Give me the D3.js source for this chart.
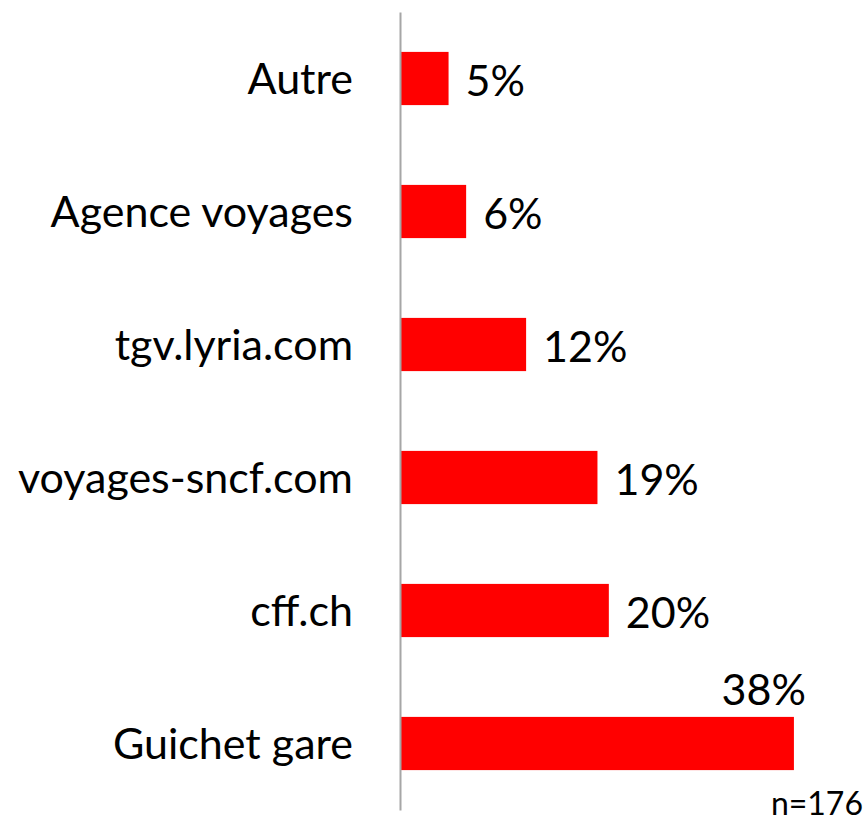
<!DOCTYPE html>
<html>
<head>
<meta charset="utf-8">
<title>Canal d'achat</title>
<script src="https://d3js.org/d3.v7.min.js"></script>
<style>
  body { margin: 0; background: #fff; }
  text { font-family: Lato, "Open Sans", sans-serif; fill: #000; }
</style>
</head>
<body>
<svg id="chart" width="867" height="822"></svg>
<script>
var categories = ["Autre", "Agence voyages", "tgv.lyria.com", "voyages-sncf.com", "cff.ch", "Guichet gare"];
var values = [4.6, 6.3, 12.1, 19.0, 20.1, 38.0];
var sampleNote = "n=176";

var svg = d3.select("#chart"),
    width = +svg.attr("width"),
    height = +svg.attr("height");

var x = d3.scaleLinear()
    .domain([0, 40])
    .range([401, 401 + 413.6]);

var y = d3.scaleBand()
    .domain(categories)
    .range([12, 810])
    .padding(0.6)
    .paddingOuter(0.3);

var data = categories.map(function (c, i) {
    return {cat: c, value: values[i]};
});

var fmt = d3.format(".0f");

// bars
svg.append("g")
    .selectAll("rect")
    .data(data)
    .join("rect")
    .attr("x", x(0))
    .attr("y", d => y(d.cat))
    .attr("width", d => x(d.value) - x(0))
    .attr("height", y.bandwidth())
    .attr("fill", "#ff0000");

// category axis
var yAxis = svg.append("g")
    .attr("transform", "translate(400,0)")
    .call(d3.axisLeft(y).tickSize(0).tickPadding(47));

yAxis.select(".domain")
    .attr("stroke", "#a6a6a6")
    .attr("stroke-width", 2);

yAxis.selectAll("text")
    .attr("font-family", "Lato, 'Open Sans', sans-serif")
    .attr("font-size", 43)
    .attr("fill", "#000")
    .attr("dy", "0.35em");

// value labels
svg.append("g")
    .selectAll("text")
    .data(data)
    .join("text")
    .attr("font-size", 43)
    .each(function (d) {
        var t = d3.select(this).text(fmt(d.value) + "%");
        var end = x(d.value);
        if (end + 17 + this.getComputedTextLength() > width) {
            // no room on the right: put it above the bar end
            t.attr("x", end + 12)
             .attr("y", y(d.cat) - 12)
             .attr("text-anchor", "end");
        } else {
            t.attr("x", end + 17)
             .attr("y", y(d.cat) + y.bandwidth() / 2 + 17);
        }
    });

svg.append("text")
    .attr("x", 863)
    .attr("y", 815)
    .attr("text-anchor", "end")
    .attr("font-size", 32)
    .text(sampleNote);
</script>
</body>
</html>
